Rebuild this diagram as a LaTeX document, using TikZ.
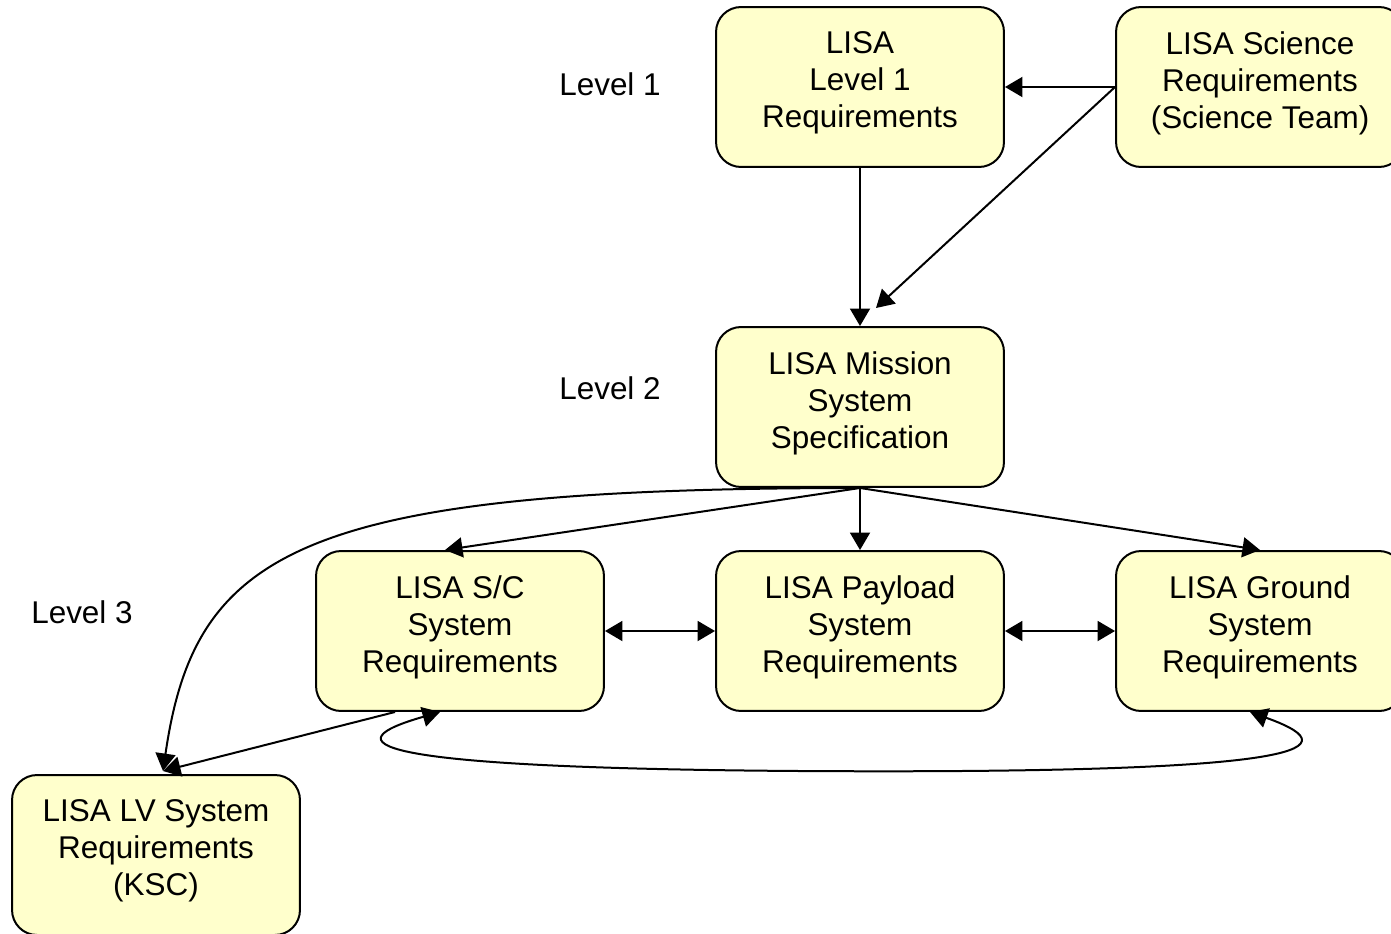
\documentclass[tikz,border=0pt]{standalone}
\usepackage{fontspec}
\setmainfont{Liberation Sans}
\usetikzlibrary{arrows.meta,calc}
\definecolor{boxfill}{HTML}{FFFFCC}
\tikzset{
  reqbox/.style={draw=black, fill=boxfill, line width=0.04cm, rounded corners=0.5cm,
    minimum width=5.76cm, minimum height=3.2cm, inner sep=0pt},
  boxtext/.style={align=center, inner sep=0pt, font=\fontsize{17.9pt}{21.06pt}\selectfont},
  lvl/.style={inner sep=0pt, font=\fontsize{17.9pt}{21.06pt}\selectfont},
  conn/.style={line width=0.04cm, -{Triangle[length=0.35cm,width=0.4cm]}},
  dconn/.style={line width=0.04cm, {Triangle[length=0.35cm,width=0.4cm]}-{Triangle[length=0.35cm,width=0.4cm]}}
}
\begin{document}
\begin{tikzpicture}[x=0.02cm,y=-0.02cm]
\useasboundingbox (0,0) rectangle (1391,933);
% boxes
\node[reqbox] (l1) at (860,87) {};
\node[reqbox] (sci) at (1260,87) {};
\node[reqbox] (ms) at (860,407) {};
\node[reqbox] (sc) at (460,631) {};
\node[reqbox] (pl) at (860,631) {};
\node[reqbox] (gr) at (1260,631) {};
\node[reqbox] (lv) at (156,855) {};
% texts
\node[boxtext] (l1t) at (860,83) {LISA\\Level 1\\Requirements};
\node[boxtext] (scit) at (1260,83) {LISA Science\\Requirements\\(Science Team)};
\node[boxtext] (mst) at (860,403) {LISA Mission\\System\\Specification};
\node[boxtext] (sct) at (460,627) {LISA S/C\\System\\Requirements};
\node[boxtext] (plt) at (860,627) {LISA Payload\\System\\Requirements};
\node[boxtext] (grt) at (1260,627) {LISA Ground\\System\\Requirements};
\node[boxtext] (lvt) at (156,851) {LISA LV System\\Requirements\\(KSC)};
% level labels
\node[lvl] (lev1) at (610,84) {Level 1};
\node[lvl] (lev2) at (610,388) {Level 2};
\node[lvl] (lev3) at (82,612) {Level 3};
% connectors
\coordinate (ff) at (876,308);
\coordinate (lvin) at ($(lv.north)+(7,-3)$);
\draw[conn] (sci.west) -- (l1.east);
\draw[conn] (sci.west) -- (ff);
\draw[conn] (l1.south) -- (ms.north);
\draw[conn] (ms.south) -- ($(sc.north)+(-15,0)$);
\draw[conn] (ms.south) -- (pl.north);
\draw[conn] (ms.south) -- (gr.north);
\draw[conn] (ms.south) .. controls (300,488) and (195,550) .. (lvin);
\draw[conn] ($(sc.south)+(-65,0)$) -- (lvin);
\draw[dconn] (sc.east) -- (pl.west);
\draw[dconn] (pl.east) -- (gr.west);
\draw[dconn] ($(sc.south)+(-20,0)$) .. controls (335,742) and (350,768) .. (800,771)
   .. controls (1285,774) and (1362,752) .. ($(gr.south)+(-10,0)$);
\end{tikzpicture}
\end{document}
